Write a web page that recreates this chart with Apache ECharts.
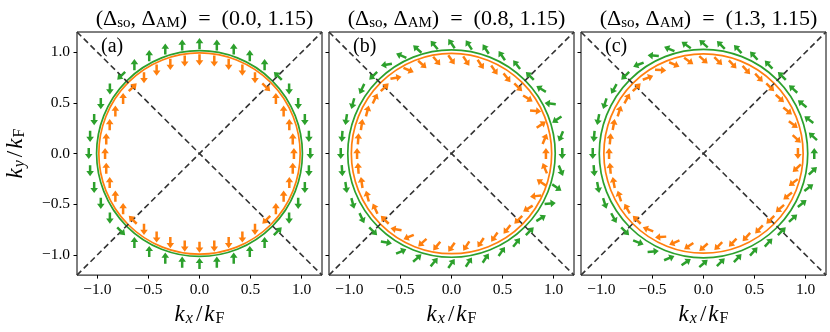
<!DOCTYPE html>
<html><head><meta charset="utf-8">
<script src="https://cdn.jsdelivr.net/npm/echarts@6/dist/echarts.min.js"></script>
<style>html,body{margin:0;padding:0;background:#fff}#c{width:830px;height:332px}</style>
</head><body><div id="c"></div>
<script>
// ---------- data ----------
const panelLetters = ['(a)', '(b)', '(c)'];
const deltaSO = ['0.0', '0.8', '1.3'];
const deltaAM = ['1.15', '1.15', '1.15'];
const axisRange = [-1.2, 1.2];
const tickValues = [-1, -0.5, 0, 0.5, 1];
const diagonalA = [[-1.2, -1.2], [1.2, 1.2]];
const diagonalB = [[-1.2, 1.2], [1.2, -1.2]];
const greenBandRadius = [1.012, 1.02, 1.025];
const orangeBandRadius = [0.99, 0.985, 0.98];
const greenArrowRadius = 1.085;
const orangeArrowRadius = 0.925;
// angular positions of arrows on the Fermi contour (deg)
const arrowSites = [0, 9, 18, 27, 36, 45, 54, 63, 72, 81, 90, 99, 108, 117, 126, 135, 144, 153, 162, 171,
  180, 189, 198, 207, 216, 225, 234, 243, 252, 261, 270, 279, 288, 297, 306, 315, 324, 333, 342, 351];
// arrow directions (deg) read from the quivers
const orangeDirA = [90, 90, 90, 90, 90, 315, 270, 270, 270, 270, 270, 270, 270, 270, 270, 45, 90, 90, 90, 90,
  90, 90, 90, 90, 90, 135, 270, 270, 270, 270, 270, 270, 270, 270, 270, 225, 90, 90, 90, 90];
const greenDirA = [270, 270, 270, 270, 270, 135, 90, 90, 90, 90, 90, 90, 90, 90, 90, 225, 270, 270, 270, 270,
  270, 270, 270, 270, 270, 315, 90, 90, 90, 90, 90, 90, 90, 90, 90, 45, 270, 270, 270, 270];
const orangeDirB = [90, 67.6, 34.4, -5.8, -31.8, -45, -51.9, -55.6, -57.1, -57.0, -55.2, -50.8, -41.9, -23.7, 10.1, 45,
  64.9, 75.3, 81.7, 86.2, 90, 93.8, 98.3, 104.7, 115.1, 135, 169.9, 203.7, 221.9, 230.8, 235.2, 237.0, 237.1, 235.6,
  231.9, 225, 211.8, 185.8, 145.6, 112.4];
const greenDirB = [270, 247.6, 214.4, 174.2, 148.2, 135, 128.1, 124.4, 122.9, 123.0, 124.8, 129.2, 138.1, 156.3, 190.1,
  225, 244.9, 255.3, 261.7, 266.2, 270, 273.8, 278.3, 284.7, 295.1, 315, 349.9, 23.7, 41.9, 50.8, 55.2, 57.0, 57.1,
  55.6, 51.9, 45, 31.8, 5.8, 325.6, 292.4];
const orangeDirC = [-90, -43.1, -37.3, -39.3, -42.3, -45, -46.8, -47.5, -47.1, -45.3, -41.5, -34.7, -23.2, -4.2, 21.2, 45,
  61.5, 72.2, 79.5, 85.1, 90, 94.9, 100.5, 107.8, 118.5, 135, 158.8, 184.2, 203.2, 214.7, 221.5, 225.3, 227.1, 227.5,
  226.8, 225, 222.3, 219.3, 217.3, 223.1];
const greenDirC = [90, 136.9, 142.7, 140.7, 137.7, 135, 133.2, 132.5, 132.9, 134.7, 138.5, 145.3, 156.8, 175.8, 201.2,
  225, 241.5, 252.2, 259.5, 265.1, 270, 274.9, 280.5, 287.8, 298.5, 315, 338.8, 4.2, 23.2, 34.7, 41.5, 45.3, 47.1,
  47.5, 46.8, 45, 42.3, 39.3, 37.3, 43.1];
const orangeDirs = [orangeDirA, orangeDirB, orangeDirC];
const greenDirs = [greenDirA, greenDirB, greenDirC];

// ---------- styling ----------
const GREEN = '#2ca02c', ORANGE = '#ff7f0e';
const FONT = '"Liberation Serif", "Times New Roman", serif';
const ARROW_LEN = 0.11;
const gridLefts = [77, 329, 581];
const gridW = 245, gridTop = 32, gridH = 244;

function arrowRenderer(color) {
  return function (params, api) {
    const th = api.value(0) * Math.PI / 180;
    const dir = api.value(1) * Math.PI / 180;
    const r = api.value(2);
    const cx = r * Math.cos(th), cy = r * Math.sin(th);
    const h = ARROW_LEN / 2;
    const p0 = api.coord([cx - h * Math.cos(dir), cy - h * Math.sin(dir)]);
    const p1 = api.coord([cx + h * Math.cos(dir), cy + h * Math.sin(dir)]);
    const dx = p1[0] - p0[0], dy = p1[1] - p0[1];
    const len = Math.hypot(dx, dy);
    const ux = dx / len, uy = dy / len, nx = -uy, ny = ux;
    const hl = 5.2, hw = 3.8, sw = 1.25;
    const bx = p1[0] - ux * hl, by = p1[1] - uy * hl;
    const pts = [
      [p0[0] + nx * sw, p0[1] + ny * sw],
      [bx + nx * sw, by + ny * sw],
      [bx + nx * hw, by + ny * hw],
      [p1[0], p1[1]],
      [bx - nx * hw, by - ny * hw],
      [bx - nx * sw, by - ny * sw],
      [p0[0] - nx * sw, p0[1] - ny * sw]
    ];
    return { type: 'polygon', shape: { points: pts }, style: { fill: color }, z2: 5 };
  };
}
function circleRenderer(color) {
  return function (params, api) {
    const r = api.value(0);
    const c = api.coord([0, 0]);
    const rx = api.size([r, 0])[0], ry = api.size([0, r])[1];
    return { type: 'circle', shape: { cx: c[0], cy: c[1], r: (rx + ry) / 2 },
      style: { fill: 'none', stroke: color, lineWidth: 1.7 } };
  };
}
const fmt = v => (v < 0 ? '\u2212' : '') + Math.abs(v).toFixed(1);

const grids = [], xAxes = [], yAxes = [], series = [], titles = [], graphics = [];
const nameRich = {
  i: { fontFamily: FONT, fontStyle: 'italic', fontSize: 23, color: '#000' },
  n: { fontFamily: FONT, fontSize: 23, color: '#000', padding: [0, 2, 0, 2] },
  si: { fontFamily: FONT, fontStyle: 'italic', fontSize: 16, color: '#000', padding: [9, 1, 0, 1] },
  su: { fontFamily: FONT, fontSize: 16, color: '#000', padding: [9, 0, 0, 1] }
};
for (let p = 0; p < 3; p++) {
  grids.push({ left: gridLefts[p], top: gridTop, width: gridW, height: gridH, show: true,
    borderColor: '#000', borderWidth: 1, backgroundColor: 'transparent' });
  xAxes.push({ type: 'value', gridIndex: p, min: axisRange[0], max: axisRange[1], position: 'bottom',
    axisLine: { show: false, onZero: false }, splitLine: { show: false },
    axisTick: { show: true, inside: false, length: 3.5, customValues: tickValues, lineStyle: { color: '#000', width: 1 } },
    axisLabel: { show: true, customValues: tickValues, formatter: fmt, margin: 7,
      fontFamily: FONT, fontSize: 15.5, color: '#000' },
    name: '{i|k}{si|x}{n|/}{i|k}{su|F}', nameLocation: 'middle', nameGap: 24,
    nameTextStyle: { rich: nameRich } });
  yAxes.push({ type: 'value', gridIndex: p, min: axisRange[0], max: axisRange[1], position: 'left',
    axisLine: { show: false, onZero: false }, splitLine: { show: false },
    axisTick: { show: true, inside: false, length: 3.5, customValues: tickValues, lineStyle: { color: '#000', width: 1 } },
    axisLabel: { show: p === 0, customValues: tickValues, formatter: fmt, margin: 7,
      fontFamily: FONT, fontSize: 15.5, color: '#000' },
    name: p === 0 ? '{i|k}{si|y}{n|/}{i|k}{su|F}' : '', nameLocation: 'middle', nameGap: 49, nameRotate: 90,
    nameTextStyle: { rich: nameRich } });
  titles.push({ text: '(\u0394{s|so}, \u0394{s|AM})  =  (' + deltaSO[p] + ', ' + deltaAM[p] + ')',
    left: gridLefts[p] + gridW / 2, top: 2, textAlign: 'center',
    textStyle: { fontFamily: FONT, fontSize: 22, fontWeight: 'normal', color: '#000',
      rich: { s: { fontFamily: FONT, fontSize: 15, color: '#000', padding: [9, 0, 0, 0] } } } });
  graphics.push({ type: 'text', left: gridLefts[p] + 24, top: 37,
    style: { text: panelLetters[p], font: '20px ' + FONT, fill: '#000' } });
  series.push({ type: 'line', xAxisIndex: p, yAxisIndex: p, data: diagonalA, symbol: 'none', silent: true, z: 3,
    lineStyle: { color: '#333333', width: 1.6, type: [6, 3.5] } });
  series.push({ type: 'line', xAxisIndex: p, yAxisIndex: p, data: diagonalB, symbol: 'none', silent: true, z: 3,
    lineStyle: { color: '#333333', width: 1.6, type: [6, 3.5] } });
  series.push({ type: 'custom', xAxisIndex: p, yAxisIndex: p, data: [[orangeBandRadius[p]]], z: 2,
    renderItem: circleRenderer(ORANGE), silent: true, clip: false });
  series.push({ type: 'custom', xAxisIndex: p, yAxisIndex: p, data: [[greenBandRadius[p]]], z: 2,
    renderItem: circleRenderer(GREEN), silent: true, clip: false });
  series.push({ type: 'custom', xAxisIndex: p, yAxisIndex: p, z: 4,
    data: arrowSites.map((s, i) => [s, orangeDirs[p][i], orangeArrowRadius]),
    encode: { x: -1, y: -1 }, dimensions: ['site', 'dir', 'r'],
    renderItem: arrowRenderer(ORANGE), silent: true, clip: false });
  series.push({ type: 'custom', xAxisIndex: p, yAxisIndex: p, z: 4,
    data: arrowSites.map((s, i) => [s, greenDirs[p][i], greenArrowRadius]),
    encode: { x: -1, y: -1 }, dimensions: ['site', 'dir', 'r'],
    renderItem: arrowRenderer(GREEN), silent: true, clip: false });
}
const chart = echarts.init(document.getElementById('c'), null, { renderer: 'canvas' });
chart.setOption({ animation: false, backgroundColor: '#fff', title: titles, grid: grids,
  xAxis: xAxes, yAxis: yAxes, series: series, graphic: graphics });
</script></body></html>
